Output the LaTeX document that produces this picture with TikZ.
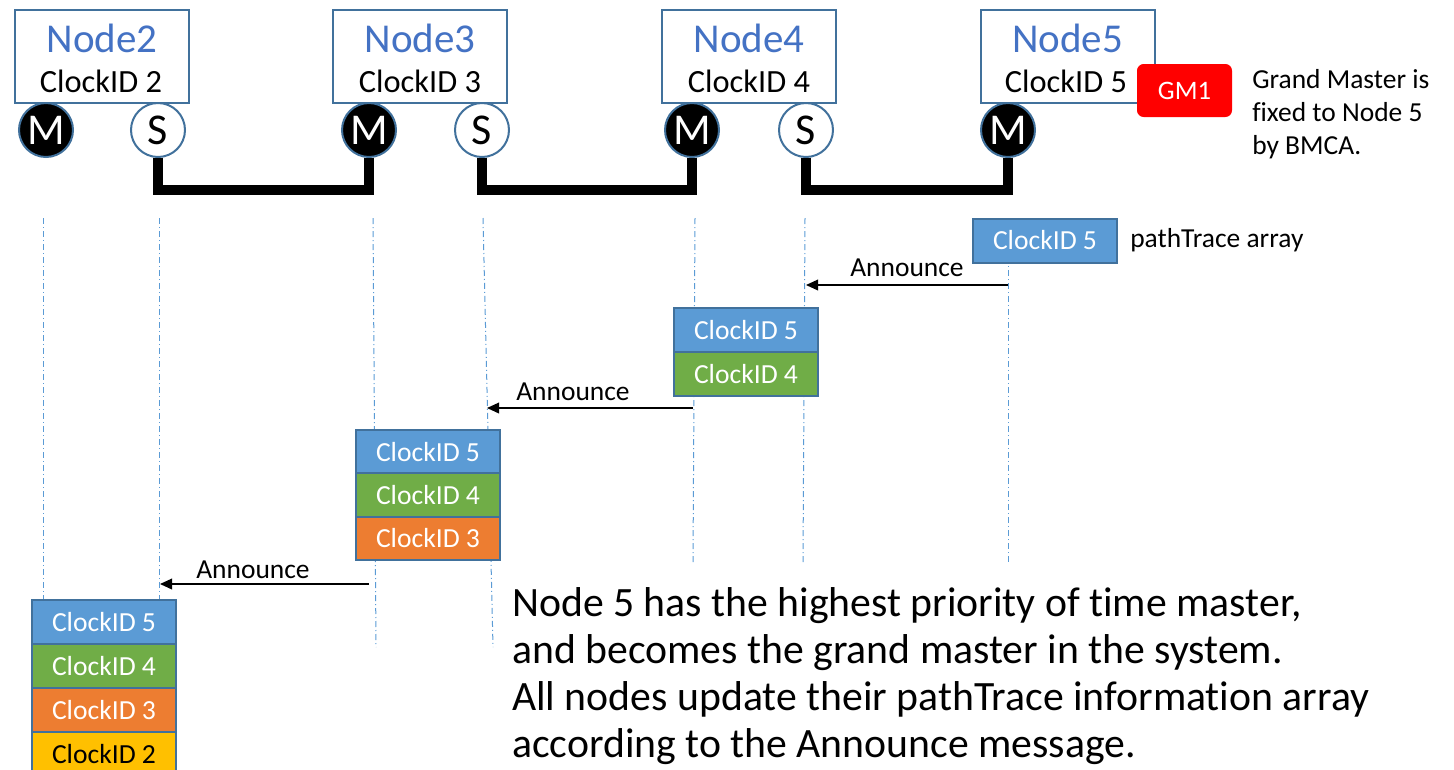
\documentclass[tikz,border=0pt]{standalone}
\usepackage{fontspec}
\setmainfont{Carlito}[Ligatures=NoCommon]
\usetikzlibrary{arrows.meta}
\definecolor{titleblue}{HTML}{4472C4}
\definecolor{edgeblue}{HTML}{41719C}
\definecolor{cellblue}{HTML}{5B9BD5}
\definecolor{cellgreen}{HTML}{70AD47}
\definecolor{cellorange}{HTML}{ED7D31}
\definecolor{cellyellow}{HTML}{FFC000}
\definecolor{gmred}{HTML}{FF0000}
\begin{document}
\begin{tikzpicture}[x=0.75pt,y=-0.75pt,
  nodebox/.style={draw=edgeblue,line width=1.5pt,fill=white,minimum width=130.5pt,minimum height=69.75pt,inner sep=0pt},
  titletext/.style={text=titleblue,inner sep=0pt,font=\fontsize{30.75}{30.75}\selectfont},
  idtext/.style={text=black,inner sep=0pt,font=\fontsize{24.3}{24.3}\selectfont},
  port/.style={circle,draw=edgeblue,line width=1.5pt,minimum size=40.5pt,inner sep=0pt,font=\fontsize{33}{33}\selectfont},
  mport/.style={port,fill=black,text=white},
  sport/.style={port,fill=white,text=black},
  link/.style={line width=7.5pt,line join=miter},
  lifeline/.style={draw=cellblue,line width=0.75pt,dash pattern=on 4.5pt off 2.25pt on 0.75pt off 2.25pt},
  cell/.style={draw=edgeblue,line width=1.5pt,minimum width=108pt,minimum height=33pt,inner sep=0pt,text=white,font=\fontsize{20.7}{24}\selectfont},
  smalltext/.style={inner sep=0pt,font=\fontsize{20.6}{24}\selectfont},
  bigtext/.style={inner sep=0pt,font=\fontsize{31.3}{35}\selectfont},
  msg/.style={line width=1.1pt,-{Triangle[length=9pt,width=8pt]}},
  gm/.style={fill=gmred,rounded corners=5pt,minimum width=71.25pt,minimum height=39.75pt,inner sep=0pt,text=white,font=\fontsize{20}{24}\selectfont}
]
\useasboundingbox (0,0) rectangle (1454,769);
\clip (0,0) rectangle (1454,769);

% lifelines
\draw[lifeline] (43,218) -- (43,600);
\draw[lifeline] (159,218) -- (159,600);
\draw[lifeline] (373,218) -- (376,647);
\draw[lifeline] (483,218) -- (493,647);
\draw[lifeline] (695,218) -- (693,562);
\draw[lifeline] (805,218) -- (803,562);
\draw[lifeline] (1008,218) -- (1008,562);

% node boxes
\node[nodebox] (n2) at (102,56.5) {};
\node[nodebox] (n3) at (420,56.5) {};
\node[nodebox] (n4) at (749,56.5) {};
\node[nodebox] (n5) at (1067.5,56.5) {};
\node[titletext,anchor=base] (t2) at (102,52) {Node2};
\node[titletext,anchor=base] (t3) at (420,52) {Node3};
\node[titletext,anchor=base] (t4) at (749,52) {Node4};
\node[titletext,anchor=base] (t5) at (1067.5,52) {Node5};
\node[idtext,anchor=base] (c2) at (101,92) {ClockID 2};
\node[idtext,anchor=base] (c3) at (420,92) {ClockID 3};
\node[idtext,anchor=base] (c4) at (749,92) {ClockID 4};
\node[idtext,anchor=base] (c5) at (1066,92) {ClockID 5};

% ports
\node[mport] (m2) at (46,130) {M};
\node[sport] (s2) at (158,130) {S};
\node[mport] (m3) at (369,130) {M};
\node[sport] (s3) at (482,130) {S};
\node[mport] (m4) at (692,130) {M};
\node[sport] (s4) at (806,130) {S};
\node[mport] (m5) at (1008,130) {M};

% links
\draw[link] (s2.south) -- (s2.south |- 0,190) -| (m3.south);
\draw[link] (s3.south) -- (s3.south |- 0,190) -| (m4.south);
\draw[link] (s4.south) -- (s4.south |- 0,190) -| (m5.south);

% GM1
\node[gm] (gm1) at (1184.5,90.5) {GM1};
\node[smalltext,anchor=base west] (g1) at (1252,88) {Grand Master is};
\node[smalltext,anchor=base west] (g2) at (1252,121) {fixed to Node 5};
\node[smalltext,anchor=base west] (g3) at (1252,154) {by BMCA.};

% pathTrace arrays
\node[cell,fill=cellblue] (p5a) at (1045,240.5) {ClockID 5};
\node[smalltext,anchor=base west] (pt) at (1130,247) {pathTrace array};

\node[cell,fill=cellblue] (p4a) at (746,330) {ClockID 5};
\node[cell,fill=cellgreen] (p4b) at (746,374) {ClockID 4};

\node[cell,fill=cellblue,minimum height=32.5pt] (p3a) at (428,451.7) {ClockID 5};
\node[cell,fill=cellgreen,minimum height=32.5pt] (p3b) at (428,495) {ClockID 4};
\node[cell,fill=cellorange,minimum height=32.5pt] (p3c) at (428,538.3) {ClockID 3};

\node[cell,fill=cellblue] (p2a) at (104,622) {ClockID 5};
\node[cell,fill=cellgreen] (p2b) at (104,666) {ClockID 4};
\node[cell,fill=cellorange] (p2c) at (104,710) {ClockID 3};
\node[cell,fill=cellyellow,text=black] (p2d) at (104,754) {ClockID 2};

% announce messages
\coordinate (a1s) at (1008,285);
\coordinate (a1e) at (806,285);
\coordinate (a2s) at (693,408);
\coordinate (a2e) at (487,408);
\coordinate (a3s) at (369,584);
\coordinate (a3e) at (160,584);
\draw[msg] (a1s) -- (a1e);
\draw[msg] (a2s) -- (a2e);
\draw[msg] (a3s) -- (a3e);
\node[smalltext,anchor=base] (l1) at (907,276) {Announce};
\node[smalltext,anchor=base] (l2) at (573,400) {Announce};
\node[smalltext,anchor=base] (l3) at (253,578) {Announce};

% explanation
\node[bigtext,anchor=base west] (e1) at (512,616) {Node 5 has the highest priority of time master,};
\node[bigtext,anchor=base west] (e2) at (512,663) {and becomes the grand master in the system.};
\node[bigtext,anchor=base west] (e3) at (512,710) {All nodes update their pathTrace information array};
\node[bigtext,anchor=base west] (e4) at (512,757) {according to the Announce message.};
\end{tikzpicture}
\end{document}
